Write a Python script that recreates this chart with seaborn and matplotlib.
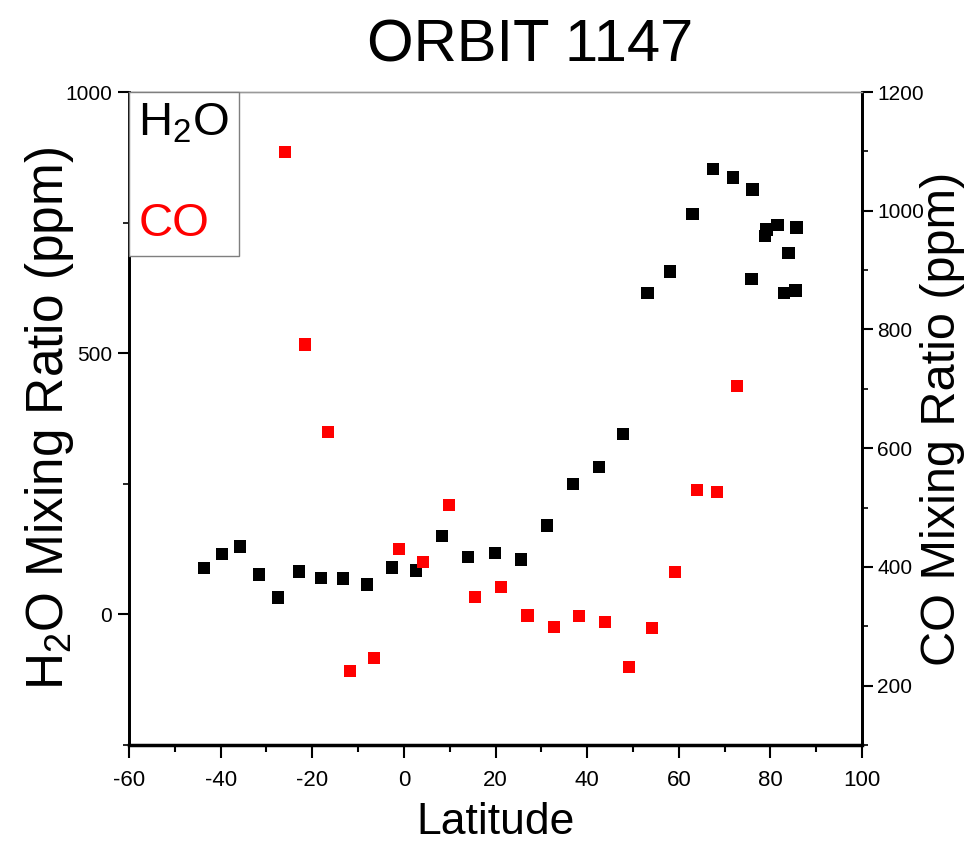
import matplotlib
matplotlib.use("Agg")
import matplotlib.pyplot as plt
import seaborn as sns
import pandas as pd
from matplotlib.lines import Line2D
from matplotlib.ticker import MultipleLocator

# ---- data ----
h2o_lat = [-43.6, -39.7, -35.8, -31.6, -27.5, -22.9, -18.1, -13.3, -8.0, -2.6,
           2.6, 8.3, 14.0, 19.9, 25.6, 31.2, 36.9, 42.6, 47.8, 53.2, 58.1,
           63.0, 67.5, 71.9, 76.1, 75.9, 78.8, 79.2, 81.6, 83.0, 84.0, 85.5, 85.7]
h2o_val = [89, 116, 130, 76, 32, 82, 70, 69, 57, 90,
           84, 150, 110, 118, 105, 170, 250, 282, 345, 615, 656,
           767, 853, 836, 813, 642, 724, 737, 745, 615, 692, 620, 741]

co_lat = [-25.9, -21.6, -16.6, -11.8, -6.5, -1.1, 4.2, 9.9, 15.5, 21.2,
          27.0, 32.8, 38.2, 43.9, 49.2, 54.2, 59.2, 64.0, 68.4, 72.7]
co_val = [1099, 775, 627, 225, 247, 430, 408, 504, 349, 366,
          318, 299, 317, 307, 231, 297, 391, 530, 526, 705]

title = "ORBIT 1147"
xlabel = "Latitude"
ylabel_left = "H$_2$O Mixing Ratio (ppm)"
ylabel_right = "CO Mixing Ratio (ppm)"
legend_labels = ["H$_2$O", "CO"]

h2o_df = pd.DataFrame({"lat": h2o_lat, "val": h2o_val})
co_df = pd.DataFrame({"lat": co_lat, "val": co_val})

sns.set_theme(style="ticks")
fam = ["Liberation Sans", "DejaVu Sans"]
plt.rcParams["font.family"] = fam
plt.rcParams["mathtext.fontset"] = "custom"
plt.rcParams["mathtext.rm"] = "Liberation Sans"
plt.rcParams["mathtext.it"] = "Liberation Sans"
plt.rcParams["mathtext.default"] = "regular"
plt.rcParams["axes.unicode_minus"] = False
for k in ["text.color", "axes.labelcolor", "xtick.color", "ytick.color"]:
    plt.rcParams[k] = "black"

W, H = 969, 850
fig = plt.figure(figsize=(W/100, H/100), dpi=100)
ax = fig.add_axes([129/W, 1-745/H, (862-129)/W, (745-92)/H])
ax2 = ax.twinx()

sns.scatterplot(data=h2o_df, x="lat", y="val", ax=ax, marker="s", s=80,
                color="black", edgecolor="none", linewidth=0, zorder=3)
sns.scatterplot(data=co_df, x="lat", y="val", ax=ax2, marker="s", s=80,
                color="#ff0000", edgecolor="none", linewidth=0, zorder=3)

ax.set_xlim(-60, 100)
ax.set_ylim(-250, 1000)
ax2.set_ylim(100, 1200)

ax.xaxis.set_major_locator(MultipleLocator(20))
ax.xaxis.set_minor_locator(MultipleLocator(10))
ax.yaxis.set_major_locator(MultipleLocator(500))
ax.yaxis.set_minor_locator(MultipleLocator(250))
ax2.yaxis.set_major_locator(MultipleLocator(200))
ax2.yaxis.set_minor_locator(MultipleLocator(100))

for a in (ax, ax2):
    for sp in a.spines.values():
        sp.set_color("black")
        sp.set_linewidth(2)
    a.spines["top"].set_color("#9a9a9a")
    a.spines["top"].set_linewidth(1)
ax.spines["bottom"].set_linewidth(2.5)

ax.tick_params(axis="x", which="major", direction="out", length=9, width=1.5,
               pad=9, labelsize=16)
ax.tick_params(axis="x", which="minor", direction="out", length=5, width=1.5)
ax.tick_params(axis="y", which="major", direction="out", length=8, width=1.5,
               pad=4, labelsize=15)
ax.tick_params(axis="y", which="minor", direction="out", length=4, width=1.2)
ax2.tick_params(axis="y", which="major", direction="out", length=8, width=1.5,
                pad=3, labelsize=15)
ax2.tick_params(axis="y", which="minor", direction="out", length=4, width=1.2)

ax.set_xlabel(xlabel, fontsize=32, labelpad=8)
ax.set_ylabel(ylabel_left, fontsize=37)
ax2.set_ylabel(ylabel_right, fontsize=35)
ax.yaxis.set_label_coords((76-129)/733, 0.5)
ax2.yaxis.set_label_coords((920-129)/733, 0.5)

fig.text(530/W, 1-62/H, title, fontsize=43, ha="center", va="baseline")

handles = [Line2D([], [], linestyle="none"), Line2D([], [], linestyle="none")]
leg = ax2.legend(handles, legend_labels, loc="upper left", borderaxespad=0,
                 handlelength=0, handletextpad=0, fontsize=34, frameon=True,
                 fancybox=False, edgecolor="#7f7f7f", framealpha=1,
                 labelcolor=["black", "#ff0000"], borderpad=0.2,
                 labelspacing=1.2)
leg.get_frame().set_linewidth(1)

fig.savefig("out.png", dpi=100)
